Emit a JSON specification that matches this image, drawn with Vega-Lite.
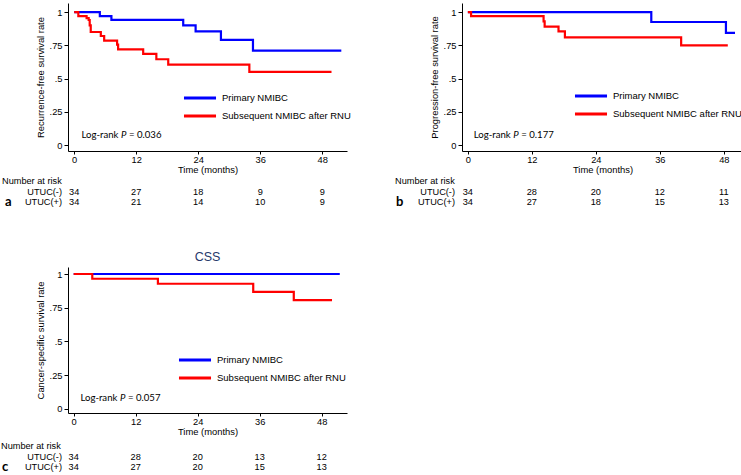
{
"$schema": "https://vega.github.io/schema/vega-lite/v6.json",
"background": "white",
"padding": {"left": 1, "top": 3, "right": 0, "bottom": 0},
"config": {
  "view": {"stroke": null},
  "axis": {"labelFont": "Liberation Sans", "labelFontSize": 9.3, "titleFont": "Liberation Sans", "titleFontSize": 9.4, "titleFontWeight": "normal", "domainColor": "black", "tickColor": "black", "labelColor": "black", "titleColor": "black", "grid": false, "tickSize": 4},
  "axisX": {"tickSize": 3, "labelPadding": 1, "titlePadding": 1},
  "axisY": {"labelPadding": 2, "titlePadding": 4, "labelExpr": "datum.value == 1 ? '1' : datum.value == 0 ? '0' : replace(format(datum.value, '.2~f'), '0.', '.')"},
  "legend": {"symbolType": "M-3,0H3", "symbolSize": 114, "symbolStrokeWidth": 3, "labelFont": "Liberation Sans", "labelFontSize": 9.5, "labelColor": "black", "rowPadding": 5, "labelOffset": 15, "padding": 0},
  "text": {"font": "Liberation Sans", "fontSize": 9.2, "color": "black"}
},
"datasets": {
  "km": [
    {"panel": "a", "group": "Primary NMIBC", "time": 0, "surv": 1},
    {"panel": "a", "group": "Primary NMIBC", "time": 4.96, "surv": 0.97},
    {"panel": "a", "group": "Primary NMIBC", "time": 7.2, "surv": 0.941},
    {"panel": "a", "group": "Primary NMIBC", "time": 21.1, "surv": 0.9},
    {"panel": "a", "group": "Primary NMIBC", "time": 23.5, "surv": 0.855},
    {"panel": "a", "group": "Primary NMIBC", "time": 28.4, "surv": 0.79},
    {"panel": "a", "group": "Primary NMIBC", "time": 34.6, "surv": 0.71},
    {"panel": "a", "group": "Primary NMIBC", "time": 51.7, "surv": 0.71},
    {"panel": "a", "group": "Subsequent NMIBC after RNU", "time": 0, "surv": 1},
    {"panel": "a", "group": "Subsequent NMIBC after RNU", "time": 0.8, "surv": 0.97},
    {"panel": "a", "group": "Subsequent NMIBC after RNU", "time": 2.4, "surv": 0.955},
    {"panel": "a", "group": "Subsequent NMIBC after RNU", "time": 2.8, "surv": 0.94},
    {"panel": "a", "group": "Subsequent NMIBC after RNU", "time": 3.0, "surv": 0.9},
    {"panel": "a", "group": "Subsequent NMIBC after RNU", "time": 3.2, "surv": 0.85},
    {"panel": "a", "group": "Subsequent NMIBC after RNU", "time": 5.15, "surv": 0.82},
    {"panel": "a", "group": "Subsequent NMIBC after RNU", "time": 5.8, "surv": 0.785},
    {"panel": "a", "group": "Subsequent NMIBC after RNU", "time": 8.3, "surv": 0.755},
    {"panel": "a", "group": "Subsequent NMIBC after RNU", "time": 8.5, "surv": 0.72},
    {"panel": "a", "group": "Subsequent NMIBC after RNU", "time": 13.35, "surv": 0.685},
    {"panel": "a", "group": "Subsequent NMIBC after RNU", "time": 15.9, "surv": 0.645},
    {"panel": "a", "group": "Subsequent NMIBC after RNU", "time": 18.2, "surv": 0.605},
    {"panel": "a", "group": "Subsequent NMIBC after RNU", "time": 33.9, "surv": 0.55},
    {"panel": "a", "group": "Subsequent NMIBC after RNU", "time": 49.8, "surv": 0.55},
    {"panel": "b", "group": "Primary NMIBC", "time": 0, "surv": 1},
    {"panel": "b", "group": "Primary NMIBC", "time": 34.4, "surv": 0.925},
    {"panel": "b", "group": "Primary NMIBC", "time": 48.4, "surv": 0.843},
    {"panel": "b", "group": "Primary NMIBC", "time": 50.1, "surv": 0.843},
    {"panel": "b", "group": "Subsequent NMIBC after RNU", "time": 0, "surv": 1},
    {"panel": "b", "group": "Subsequent NMIBC after RNU", "time": 0.6, "surv": 0.97},
    {"panel": "b", "group": "Subsequent NMIBC after RNU", "time": 14.2, "surv": 0.93},
    {"panel": "b", "group": "Subsequent NMIBC after RNU", "time": 14.4, "surv": 0.89},
    {"panel": "b", "group": "Subsequent NMIBC after RNU", "time": 17.0, "surv": 0.855},
    {"panel": "b", "group": "Subsequent NMIBC after RNU", "time": 18.2, "surv": 0.81},
    {"panel": "b", "group": "Subsequent NMIBC after RNU", "time": 40.0, "surv": 0.75},
    {"panel": "b", "group": "Subsequent NMIBC after RNU", "time": 48.75, "surv": 0.75},
    {"panel": "c", "group": "Primary NMIBC", "time": 0, "surv": 1},
    {"panel": "c", "group": "Primary NMIBC", "time": 51.5, "surv": 1},
    {"panel": "c", "group": "Subsequent NMIBC after RNU", "time": 0, "surv": 1},
    {"panel": "c", "group": "Subsequent NMIBC after RNU", "time": 3.6, "surv": 0.965},
    {"panel": "c", "group": "Subsequent NMIBC after RNU", "time": 16.3, "surv": 0.928},
    {"panel": "c", "group": "Subsequent NMIBC after RNU", "time": 34.75, "surv": 0.868},
    {"panel": "c", "group": "Subsequent NMIBC after RNU", "time": 42.6, "surv": 0.806},
    {"panel": "c", "group": "Subsequent NMIBC after RNU", "time": 50.0, "surv": 0.806}
  ],
  "risk": [
    {"panel": "a", "row": "UTUC(-)", "time": 0, "n": 34},
    {"panel": "a", "row": "UTUC(-)", "time": 12, "n": 27},
    {"panel": "a", "row": "UTUC(-)", "time": 24, "n": 18},
    {"panel": "a", "row": "UTUC(-)", "time": 36, "n": 9},
    {"panel": "a", "row": "UTUC(-)", "time": 48, "n": 9},
    {"panel": "a", "row": "UTUC(+)", "time": 0, "n": 34},
    {"panel": "a", "row": "UTUC(+)", "time": 12, "n": 21},
    {"panel": "a", "row": "UTUC(+)", "time": 24, "n": 14},
    {"panel": "a", "row": "UTUC(+)", "time": 36, "n": 10},
    {"panel": "a", "row": "UTUC(+)", "time": 48, "n": 9},
    {"panel": "b", "row": "UTUC(-)", "time": 0, "n": 34},
    {"panel": "b", "row": "UTUC(-)", "time": 12, "n": 28},
    {"panel": "b", "row": "UTUC(-)", "time": 24, "n": 20},
    {"panel": "b", "row": "UTUC(-)", "time": 36, "n": 12},
    {"panel": "b", "row": "UTUC(-)", "time": 48, "n": 11},
    {"panel": "b", "row": "UTUC(+)", "time": 0, "n": 34},
    {"panel": "b", "row": "UTUC(+)", "time": 12, "n": 27},
    {"panel": "b", "row": "UTUC(+)", "time": 24, "n": 18},
    {"panel": "b", "row": "UTUC(+)", "time": 36, "n": 15},
    {"panel": "b", "row": "UTUC(+)", "time": 48, "n": 13},
    {"panel": "c", "row": "UTUC(-)", "time": 0, "n": 34},
    {"panel": "c", "row": "UTUC(-)", "time": 12, "n": 28},
    {"panel": "c", "row": "UTUC(-)", "time": 24, "n": 20},
    {"panel": "c", "row": "UTUC(-)", "time": 36, "n": 13},
    {"panel": "c", "row": "UTUC(-)", "time": 48, "n": 12},
    {"panel": "c", "row": "UTUC(+)", "time": 0, "n": 34},
    {"panel": "c", "row": "UTUC(+)", "time": 12, "n": 27},
    {"panel": "c", "row": "UTUC(+)", "time": 24, "n": 20},
    {"panel": "c", "row": "UTUC(+)", "time": 36, "n": 15},
    {"panel": "c", "row": "UTUC(+)", "time": 48, "n": 13}
  ],
  "rowlabels": [{"row": "UTUC(-)"}, {"row": "UTUC(+)"}],
  "header": [{"row": "Number at risk"}]
},
"resolve": {"scale": {"color": "independent"}, "legend": {"color": "independent"}},
"spacing": 41,
"vconcat": [
 {
  "resolve": {"scale": {"color": "independent"}, "legend": {"color": "independent"}},
  "spacing": 44,
  "hconcat": [
   {
    "width": 279, "height": 148,
    "resolve": {"scale": {"y": "independent"}},
    "layer": [
     {"data": {"name": "km"}, "transform": [{"filter": "datum.panel == 'a'"}],
      "mark": {"type": "line", "interpolate": "step-after", "strokeWidth": 2.2},
      "encoding": {
        "x": {"field": "time", "type": "quantitative", "scale": {"domain": [-1.2, 52.8], "nice": false, "zero": false}, "axis": {"values": [0, 12, 24, 36, 48], "title": "Time (months)"}},
        "y": {"field": "surv", "type": "quantitative", "scale": {"domain": [-0.045, 1.068], "nice": false, "zero": false}, "axis": {"values": [0, 0.25, 0.5, 0.75, 1], "title": "Recurrence-free survival rate"}},
        "color": {"field": "group", "type": "nominal", "scale": {"domain": ["Primary NMIBC", "Subsequent NMIBC after RNU"], "range": ["#0000ff", "#ff0000"]}, "legend": {"title": null, "orient": "none", "legendX": 125, "legendY": 88}}
      }},
     {"data": {"values": [{"t": "Log-rank", "p": "P", "v": "= 0.036"}]},
      "mark": {"type": "text", "align": "left", "baseline": "middle", "font": "Lato", "fontSize": 9.6},
      "encoding": {"x": {"datum": 1.4, "type": "quantitative"}, "y": {"datum": 0.075, "type": "quantitative", "scale": {"domain": [-0.045, 1.068], "nice": false, "zero": false}, "axis": null}, "text": {"field": "t"}}},
     {"data": {"values": [{"t": "Log-rank", "p": "P", "v": "= 0.036"}]},
      "mark": {"type": "text", "align": "left", "baseline": "middle", "font": "Lato", "fontSize": 9.6, "fontStyle": "italic", "dx": 39.5},
      "encoding": {"x": {"datum": 1.4, "type": "quantitative"}, "y": {"datum": 0.075, "type": "quantitative", "scale": {"domain": [-0.045, 1.068], "nice": false, "zero": false}, "axis": null}, "text": {"field": "p"}}},
     {"data": {"values": [{"t": "Log-rank", "p": "P", "v": "= 0.036"}]},
      "mark": {"type": "text", "align": "left", "baseline": "middle", "font": "Lato", "fontSize": 9.6, "dx": 47.5},
      "encoding": {"x": {"datum": 1.4, "type": "quantitative"}, "y": {"datum": 0.075, "type": "quantitative", "scale": {"domain": [-0.045, 1.068], "nice": false, "zero": false}, "axis": null}, "text": {"field": "v"}}},
     {"data": {"name": "risk"}, "transform": [{"filter": "datum.panel == 'a'"}],
      "mark": {"type": "text", "align": "center", "baseline": "middle"},
      "encoding": {"x": {"field": "time", "type": "quantitative"}, "y": {"field": "row", "type": "ordinal", "scale": {"type": "point", "domain": ["Number at risk", "UTUC(-)", "UTUC(+)"], "range": [178, 199], "padding": 0}, "axis": null}, "text": {"field": "n"}}},
     {"data": {"name": "rowlabels"},
      "mark": {"type": "text", "align": "right", "baseline": "middle", "dx": -6},
      "encoding": {"x": {"datum": -1.2, "type": "quantitative"}, "y": {"field": "row", "type": "ordinal", "scale": {"type": "point", "domain": ["Number at risk", "UTUC(-)", "UTUC(+)"], "range": [178, 199], "padding": 0}, "axis": null}, "text": {"field": "row"}}},
     {"data": {"name": "header"},
      "mark": {"type": "text", "align": "left", "baseline": "middle", "dx": -66},
      "encoding": {"x": {"datum": -1.2, "type": "quantitative"}, "y": {"field": "row", "type": "ordinal", "scale": {"type": "point", "domain": ["Number at risk", "UTUC(-)", "UTUC(+)"], "range": [178, 199], "padding": 0}, "axis": null}, "text": {"field": "row"}}},
     {"data": {"values": [{"row": "UTUC(+)", "letter": "a"}]},
      "mark": {"type": "text", "align": "left", "baseline": "middle", "dx": -63, "font": "Lato", "fontSize": 13, "fontWeight": "bold"},
      "encoding": {"x": {"datum": -1.2, "type": "quantitative"}, "y": {"field": "row", "type": "ordinal", "scale": {"type": "point", "domain": ["Number at risk", "UTUC(-)", "UTUC(+)"], "range": [178, 199], "padding": 0}, "axis": null}, "text": {"field": "letter"}}}
    ]
   },
   {
    "width": 281, "height": 148,
    "resolve": {"scale": {"y": "independent"}},
    "layer": [
     {"data": {"name": "km"}, "transform": [{"filter": "datum.panel == 'b'"}],
      "mark": {"type": "line", "interpolate": "step-after", "strokeWidth": 2.2},
      "encoding": {
        "x": {"field": "time", "type": "quantitative", "scale": {"domain": [-1.1, 51.6], "nice": false, "zero": false}, "axis": {"values": [0, 12, 24, 36, 48], "title": "Time (months)"}},
        "y": {"field": "surv", "type": "quantitative", "scale": {"domain": [-0.045, 1.068], "nice": false, "zero": false}, "axis": {"values": [0, 0.25, 0.5, 0.75, 1], "title": "Progression-free survival rate"}},
        "color": {"field": "group", "type": "nominal", "scale": {"domain": ["Primary NMIBC", "Subsequent NMIBC after RNU"], "range": ["#0000ff", "#ff0000"]}, "legend": {"title": null, "orient": "none", "legendX": 122, "legendY": 86}}
      }},
     {"data": {"values": [{"t": "Log-rank", "p": "P", "v": "= 0.177"}]},
      "mark": {"type": "text", "align": "left", "baseline": "middle", "font": "Lato", "fontSize": 9.6},
      "encoding": {"x": {"datum": 1.1, "type": "quantitative"}, "y": {"datum": 0.075, "type": "quantitative", "scale": {"domain": [-0.045, 1.068], "nice": false, "zero": false}, "axis": null}, "text": {"field": "t"}}},
     {"data": {"values": [{"t": "Log-rank", "p": "P", "v": "= 0.177"}]},
      "mark": {"type": "text", "align": "left", "baseline": "middle", "font": "Lato", "fontSize": 9.6, "fontStyle": "italic", "dx": 39.5},
      "encoding": {"x": {"datum": 1.1, "type": "quantitative"}, "y": {"datum": 0.075, "type": "quantitative", "scale": {"domain": [-0.045, 1.068], "nice": false, "zero": false}, "axis": null}, "text": {"field": "p"}}},
     {"data": {"values": [{"t": "Log-rank", "p": "P", "v": "= 0.177"}]},
      "mark": {"type": "text", "align": "left", "baseline": "middle", "font": "Lato", "fontSize": 9.6, "dx": 47.5},
      "encoding": {"x": {"datum": 1.1, "type": "quantitative"}, "y": {"datum": 0.075, "type": "quantitative", "scale": {"domain": [-0.045, 1.068], "nice": false, "zero": false}, "axis": null}, "text": {"field": "v"}}},
     {"data": {"name": "risk"}, "transform": [{"filter": "datum.panel == 'b'"}],
      "mark": {"type": "text", "align": "center", "baseline": "middle"},
      "encoding": {"x": {"field": "time", "type": "quantitative"}, "y": {"field": "row", "type": "ordinal", "scale": {"type": "point", "domain": ["Number at risk", "UTUC(-)", "UTUC(+)"], "range": [178, 199], "padding": 0}, "axis": null}, "text": {"field": "n"}}},
     {"data": {"name": "rowlabels"},
      "mark": {"type": "text", "align": "right", "baseline": "middle", "dx": -7},
      "encoding": {"x": {"datum": -1.1, "type": "quantitative"}, "y": {"field": "row", "type": "ordinal", "scale": {"type": "point", "domain": ["Number at risk", "UTUC(-)", "UTUC(+)"], "range": [178, 199], "padding": 0}, "axis": null}, "text": {"field": "row"}}},
     {"data": {"name": "header"},
      "mark": {"type": "text", "align": "left", "baseline": "middle", "dx": -67},
      "encoding": {"x": {"datum": -1.1, "type": "quantitative"}, "y": {"field": "row", "type": "ordinal", "scale": {"type": "point", "domain": ["Number at risk", "UTUC(-)", "UTUC(+)"], "range": [178, 199], "padding": 0}, "axis": null}, "text": {"field": "row"}}},
     {"data": {"values": [{"row": "UTUC(+)", "letter": "b"}]},
      "mark": {"type": "text", "align": "left", "baseline": "middle", "dx": -66, "font": "Lato", "fontSize": 13, "fontWeight": "bold"},
      "encoding": {"x": {"datum": -1.1, "type": "quantitative"}, "y": {"field": "row", "type": "ordinal", "scale": {"type": "point", "domain": ["Number at risk", "UTUC(-)", "UTUC(+)"], "range": [178, 199], "padding": 0}, "axis": null}, "text": {"field": "letter"}}}
    ]
   }
  ]
 },
 {
  "width": 279, "height": 146,
  "title": {"text": "CSS", "font": "Liberation Sans", "fontSize": 12.5, "fontWeight": "normal", "color": "#26386b", "anchor": "middle", "offset": 4},
  "resolve": {"scale": {"y": "independent"}},
  "layer": [
   {"data": {"name": "km"}, "transform": [{"filter": "datum.panel == 'c'"}],
    "mark": {"type": "line", "interpolate": "step-after", "strokeWidth": 2.2},
    "encoding": {
      "x": {"field": "time", "type": "quantitative", "scale": {"domain": [-1.1, 52.9], "nice": false, "zero": false}, "axis": {"values": [0, 12, 24, 36, 48], "title": "Time (months)"}},
      "y": {"field": "surv", "type": "quantitative", "scale": {"domain": [-0.03, 1.052], "nice": false, "zero": false}, "axis": {"values": [0, 0.25, 0.5, 0.75, 1], "title": "Cancer-specific survival rate"}},
      "color": {"field": "group", "type": "nominal", "scale": {"domain": ["Primary NMIBC", "Subsequent NMIBC after RNU"], "range": ["#0000ff", "#ff0000"]}, "legend": {"title": null, "orient": "none", "legendX": 120, "legendY": 86}}
    }},
   {"data": {"values": [{"t": "Log-rank", "p": "P", "v": "= 0.057"}]},
    "mark": {"type": "text", "align": "left", "baseline": "middle", "font": "Lato", "fontSize": 9.6},
    "encoding": {"x": {"datum": 1.3, "type": "quantitative"}, "y": {"datum": 0.08, "type": "quantitative", "scale": {"domain": [-0.03, 1.052], "nice": false, "zero": false}, "axis": null}, "text": {"field": "t"}}},
   {"data": {"values": [{"t": "Log-rank", "p": "P", "v": "= 0.057"}]},
    "mark": {"type": "text", "align": "left", "baseline": "middle", "font": "Lato", "fontSize": 9.6, "fontStyle": "italic", "dx": 39.5},
    "encoding": {"x": {"datum": 1.3, "type": "quantitative"}, "y": {"datum": 0.08, "type": "quantitative", "scale": {"domain": [-0.03, 1.052], "nice": false, "zero": false}, "axis": null}, "text": {"field": "p"}}},
   {"data": {"values": [{"t": "Log-rank", "p": "P", "v": "= 0.057"}]},
    "mark": {"type": "text", "align": "left", "baseline": "middle", "font": "Lato", "fontSize": 9.6, "dx": 47.5},
    "encoding": {"x": {"datum": 1.3, "type": "quantitative"}, "y": {"datum": 0.08, "type": "quantitative", "scale": {"domain": [-0.03, 1.052], "nice": false, "zero": false}, "axis": null}, "text": {"field": "v"}}},
   {"data": {"name": "risk"}, "transform": [{"filter": "datum.panel == 'c'"}],
    "mark": {"type": "text", "align": "center", "baseline": "middle"},
    "encoding": {"x": {"field": "time", "type": "quantitative"}, "y": {"field": "row", "type": "ordinal", "scale": {"type": "point", "domain": ["Number at risk", "UTUC(-)", "UTUC(+)"], "range": [179, 200], "padding": 0}, "axis": null}, "text": {"field": "n"}}},
   {"data": {"name": "rowlabels"},
    "mark": {"type": "text", "align": "right", "baseline": "middle", "dx": -6},
    "encoding": {"x": {"datum": -1.1, "type": "quantitative"}, "y": {"field": "row", "type": "ordinal", "scale": {"type": "point", "domain": ["Number at risk", "UTUC(-)", "UTUC(+)"], "range": [179, 200], "padding": 0}, "axis": null}, "text": {"field": "row"}}},
   {"data": {"name": "header"},
    "mark": {"type": "text", "align": "left", "baseline": "middle", "dx": -67},
    "encoding": {"x": {"datum": -1.1, "type": "quantitative"}, "y": {"field": "row", "type": "ordinal", "scale": {"type": "point", "domain": ["Number at risk", "UTUC(-)", "UTUC(+)"], "range": [179, 200], "padding": 0}, "axis": null}, "text": {"field": "row"}}},
   {"data": {"values": [{"row": "UTUC(+)", "letter": "c"}]},
    "mark": {"type": "text", "align": "left", "baseline": "middle", "dx": -66, "font": "Lato", "fontSize": 13, "fontWeight": "bold"},
    "encoding": {"x": {"datum": -1.1, "type": "quantitative"}, "y": {"field": "row", "type": "ordinal", "scale": {"type": "point", "domain": ["Number at risk", "UTUC(-)", "UTUC(+)"], "range": [179, 200], "padding": 0}, "axis": null}, "text": {"field": "letter"}}}
  ]
 }
]
}
